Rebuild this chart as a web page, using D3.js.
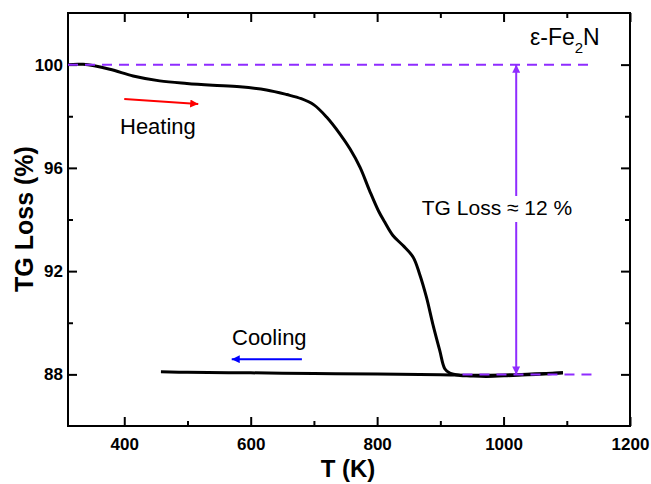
<!DOCTYPE html>
<html>
<head>
<meta charset="utf-8">
<script src="https://d3js.org/d3.v7.min.js"></script>
<style>
  body { margin: 0; background: white; }
  text { font-family: Arial, "Liberation Sans", sans-serif; }
  .tick text { font-size: 17px; font-weight: bold; fill: black; }
  .tick line { stroke: black; stroke-width: 2; }
  .domain { display: none; }
</style>
</head>
<body>
<div id="chart"></div>
<script>
// heating run (T in K, mass in %)
var heatT = [311, 335, 377, 414, 456, 499, 540, 583, 625, 657, 680, 700, 720, 741, 757, 773, 788, 802, 812, 825, 841, 857, 867, 878, 888, 899, 907, 915, 931, 947, 973, 1015, 1057, 1094];
var heatW = [100.0, 100.01, 99.82, 99.56, 99.37, 99.27, 99.2, 99.14, 99.02, 98.84, 98.68, 98.44, 97.97, 97.32, 96.74, 96.02, 95.12, 94.34, 93.9, 93.38, 92.99, 92.54, 91.9, 90.99, 89.96, 88.93, 88.22, 88.05, 87.96, 87.94, 87.92, 87.96, 88.0, 88.06];
// cooling run
var coolT = [1094, 1050, 1000, 950, 900, 800, 700, 600, 500, 458];
var coolW = [88.06, 88.02, 87.98, 87.97, 87.99, 88.01, 88.03, 88.06, 88.08, 88.1];

var xTicks = [400, 600, 800, 1000, 1200];
var xMinor = [500, 700, 900, 1100];
var yTicks = [88, 92, 96, 100];
var yMinor = [90, 94, 98];

var margin = {top: 13, right: 21, bottom: 58, left: 68},
    width = 651 - margin.left - margin.right,
    height = 484 - margin.top - margin.bottom;

var svg = d3.select("#chart")
  .append("svg")
    .attr("width", 651)
    .attr("height", 484)
  .append("g")
    .attr("transform", "translate(" + margin.left + "," + margin.top + ")");

var x = d3.scaleLinear().domain([311, 1200]).range([0, width]);
var y = d3.scaleLinear().domain([86, 102]).range([height, 0]);

var purple = "#8f2cff";

// arrow heads
var defs = svg.append("defs");
function marker(id, color) {
  defs.append("marker")
    .attr("id", id)
    .attr("viewBox", "0 0 10 10")
    .attr("refX", 10).attr("refY", 5)
    .attr("markerUnits", "userSpaceOnUse")
    .attr("markerWidth", 12).attr("markerHeight", 8)
    .attr("orient", "auto-start-reverse")
    .append("path")
      .attr("d", "M0,0 L10,5 L0,10 z")
      .style("fill", color);
}
marker("arRed", "red");
marker("arBlue", "blue");
marker("arPurple", purple);

// axes, ticks inward on all four sides
svg.append("g")
  .attr("transform", "translate(0," + height + ")")
  .call(d3.axisBottom(x).tickValues(xTicks).tickSize(-9).tickPadding(12).tickFormat(d3.format("d")));
svg.append("g")
  .attr("transform", "translate(0," + height + ")")
  .call(d3.axisBottom(x).tickValues(xMinor).tickSize(-5).tickFormat(""));
svg.append("g")
  .call(d3.axisTop(x).tickValues(xTicks).tickSize(-9).tickFormat(""));
svg.append("g")
  .call(d3.axisTop(x).tickValues(xMinor).tickSize(-5).tickFormat(""));

svg.append("g")
  .call(d3.axisLeft(y).tickValues(yTicks).tickSize(-9).tickPadding(5));
svg.append("g")
  .call(d3.axisLeft(y).tickValues(yMinor).tickSize(-5).tickFormat(""));
svg.append("g")
  .attr("transform", "translate(" + width + ",0)")
  .call(d3.axisRight(y).tickValues(yTicks).tickSize(-9).tickFormat(""));
svg.append("g")
  .attr("transform", "translate(" + width + ",0)")
  .call(d3.axisRight(y).tickValues(yMinor).tickSize(-5).tickFormat(""));

svg.append("rect")
  .attr("width", width).attr("height", height)
  .style("fill", "none").style("stroke", "black").style("stroke-width", 2);

// axis titles
svg.append("text")
  .attr("x", 280).attr("y", 464)
  .style("text-anchor", "middle")
  .style("font-size", "24px").style("font-weight", "bold")
  .text("T (K)");

svg.append("text")
  .attr("transform", "translate(-35," + 206 + ") rotate(-90)")
  .style("text-anchor", "middle")
  .style("font-size", "25px").style("font-weight", "bold")
  .text("TG Loss (%)");

// curves
var line = d3.line()
  .x(function(d) { return x(d[0]); })
  .y(function(d) { return y(d[1]); })
  .curve(d3.curveCatmullRom.alpha(0.5));

svg.append("path")
  .datum(coolT.map(function(t, i) { return [t, coolW[i]]; }))
  .attr("d", line)
  .style("fill", "none").style("stroke", "black").style("stroke-width", 3);

svg.append("path")
  .datum(heatT.map(function(t, i) { return [t, heatW[i]]; }))
  .attr("d", line)
  .style("fill", "none").style("stroke", "black").style("stroke-width", 3)
  .style("stroke-linejoin", "round");

// dashed reference levels
svg.append("line")
  .attr("x1", x(311)).attr("x2", x(1140))
  .attr("y1", y(100)).attr("y2", y(100))
  .style("stroke", purple).style("stroke-width", 2).style("stroke-dasharray", "10,7");
svg.append("line")
  .attr("x1", x(935)).attr("x2", x(1140))
  .attr("y1", y(88)).attr("y2", y(88))
  .style("stroke", purple).style("stroke-width", 2).style("stroke-dasharray", "10,7");

// double arrow for the loss
svg.append("line")
  .attr("x1", x(1020)).attr("x2", x(1020))
  .attr("y1", y(100)).attr("y2", y(88))
  .style("stroke", purple).style("stroke-width", 2)
  .attr("marker-start", "url(#arPurple)")
  .attr("marker-end", "url(#arPurple)");

svg.append("rect")
  .attr("x", x(1020) - 10).attr("y", 183)
  .attr("width", 20).attr("height", 26)
  .style("fill", "white");

svg.append("text")
  .attr("x", 429).attr("y", 202)
  .style("text-anchor", "middle")
  .style("font-size", "21px")
  .text("TG Loss \u2248 12 %");

// heating / cooling arrows
svg.append("line")
  .attr("x1", x(400)).attr("y1", y(98.67))
  .attr("x2", x(517)).attr("y2", y(98.47))
  .style("stroke", "red").style("stroke-width", 2)
  .attr("marker-end", "url(#arRed)");
svg.append("text")
  .attr("x", 52).attr("y", 121)
  .style("font-size", "22px")
  .text("Heating");

svg.append("line")
  .attr("x1", x(681)).attr("y1", y(88.59))
  .attr("x2", x(570)).attr("y2", y(88.59))
  .style("stroke", "blue").style("stroke-width", 2)
  .attr("marker-end", "url(#arBlue)");
svg.append("text")
  .attr("x", 164).attr("y", 332)
  .style("font-size", "22px")
  .text("Cooling");

// sample label
var lab = svg.append("text")
  .attr("x", 462).attr("y", 32)
  .style("font-size", "23px");
lab.append("tspan").text("\u03b5-Fe");
lab.append("tspan").attr("dy", 8).style("font-size", "15px").text("2");
lab.append("tspan").attr("dy", -8).text("N");
</script>
</body>
</html>
